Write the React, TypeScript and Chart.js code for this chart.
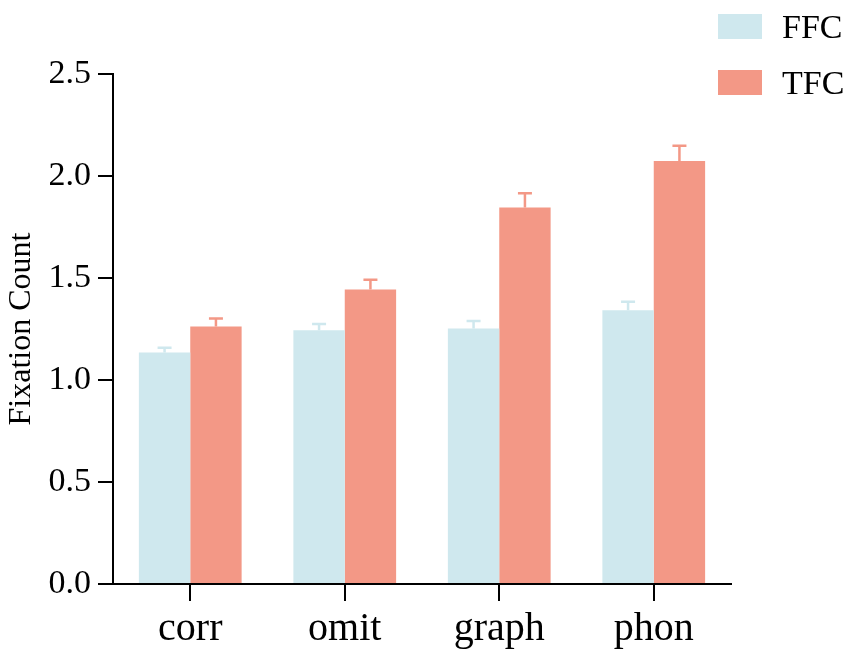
import { useEffect, useRef } from 'react'
import { Chart, registerables, Plugin } from 'chart.js'

Chart.register(...registerables)

const SERIF = "'Liberation Serif', 'Times New Roman', serif"

// data
const categories = ['corr', 'omit', 'graph', 'phon']
const ffcMeans = [1.135, 1.244, 1.252, 1.342]
const ffcErrors = [0.023, 0.031, 0.037, 0.041]
const tfcMeans = [1.262, 1.444, 1.845, 2.074]
const tfcErrors = [0.039, 0.047, 0.07, 0.074]
const yTicks = [0, 0.5, 1.0, 1.5, 2.0, 2.5]

const FFC_COLOR = '#cfe8ee'
const TFC_COLOR = '#f39886'

const errors = [ffcErrors, tfcErrors]

// upward-only error bars with a short cap, same colour as the bar
const errorBars: Plugin<'bar'> = {
  id: 'errorBars',
  afterDatasetsDraw(chart) {
    const { ctx } = chart
    const y = chart.scales.y
    chart.data.datasets.forEach((ds, di) => {
      const meta = chart.getDatasetMeta(di)
      ctx.save()
      ctx.strokeStyle = ds.backgroundColor as string
      ctx.lineWidth = 2.5
      meta.data.forEach((bar: any, i) => {
        const v = ds.data[i] as number
        const top = y.getPixelForValue(v + errors[di][i])
        ctx.beginPath()
        ctx.moveTo(bar.x, bar.y)
        ctx.lineTo(bar.x, top)
        ctx.moveTo(bar.x - 7, top)
        ctx.lineTo(bar.x + 7, top)
        ctx.stroke()
      })
      ctx.restore()
    })
  },
}

export default function App() {
  const ref = useRef<HTMLCanvasElement>(null)
  const chart = useRef<Chart | null>(null)

  useEffect(() => {
    if (!ref.current) return
    chart.current?.destroy()
    chart.current = new Chart(ref.current, {
      type: 'bar',
      data: {
        labels: categories,
        datasets: [
          { label: 'FFC', data: ffcMeans, backgroundColor: FFC_COLOR, barPercentage: 1, categoryPercentage: 0.665 },
          { label: 'TFC', data: tfcMeans, backgroundColor: TFC_COLOR, barPercentage: 1, categoryPercentage: 0.665 },
        ],
      },
      options: {
        responsive: false,
        animation: false,
        devicePixelRatio: 1,
        layout: { padding: { top: 74, right: 120, left: 0, bottom: 0 } },
        plugins: { legend: { display: false }, tooltip: { enabled: false } },
        scales: {
          x: {
            afterFit: (s: any) => { s.height = 71 },
            grid: { offset: false, drawOnChartArea: false, tickLength: 17, tickColor: '#000', lineWidth: 2 },
            border: { display: true, color: '#000', width: 2 },
            ticks: { color: '#000', padding: 4, font: { family: SERIF, size: 40 } },
          },
          y: {
            min: 0, max: 2.5,
            afterFit: (s: any) => { s.width = 113 },
            afterBuildTicks: (s: any) => { s.ticks = yTicks.map(v => ({ value: v })) },
            grid: { drawOnChartArea: false, tickLength: 15, tickColor: '#000', lineWidth: 2 },
            border: { display: true, color: '#000', width: 2 },
            ticks: { color: '#000', padding: 7, font: { family: SERIF, size: 34 }, callback: (v: any) => Number(v).toFixed(1) },
            title: { display: true, text: 'Fixation Count', color: '#000', padding: { top: 2, bottom: 0 }, font: { family: SERIF, size: 32 } },
          },
        },
      },
      plugins: [errorBars],
    })
    return () => chart.current?.destroy()
  }, [])

  const legendRow = (label: string, color: string, top: number) => (
    <div style={{ position: 'absolute', left: 718, top, display: 'flex', alignItems: 'center' }}>
      <div style={{ width: 44, height: 25, background: color }} />
      <span style={{ marginLeft: 20, fontFamily: SERIF, fontSize: 34, color: '#000', lineHeight: '25px' }}>{label}</span>
    </div>
  )

  return (
    <div style={{ position: 'absolute', left: 0, top: 0, width: 851, height: 655, background: '#fff' }}>
      <canvas ref={ref} width={851} height={655} />
      {legendRow('FFC', FFC_COLOR, 14)}
      {legendRow('TFC', TFC_COLOR, 70)}
    </div>
  )
}
